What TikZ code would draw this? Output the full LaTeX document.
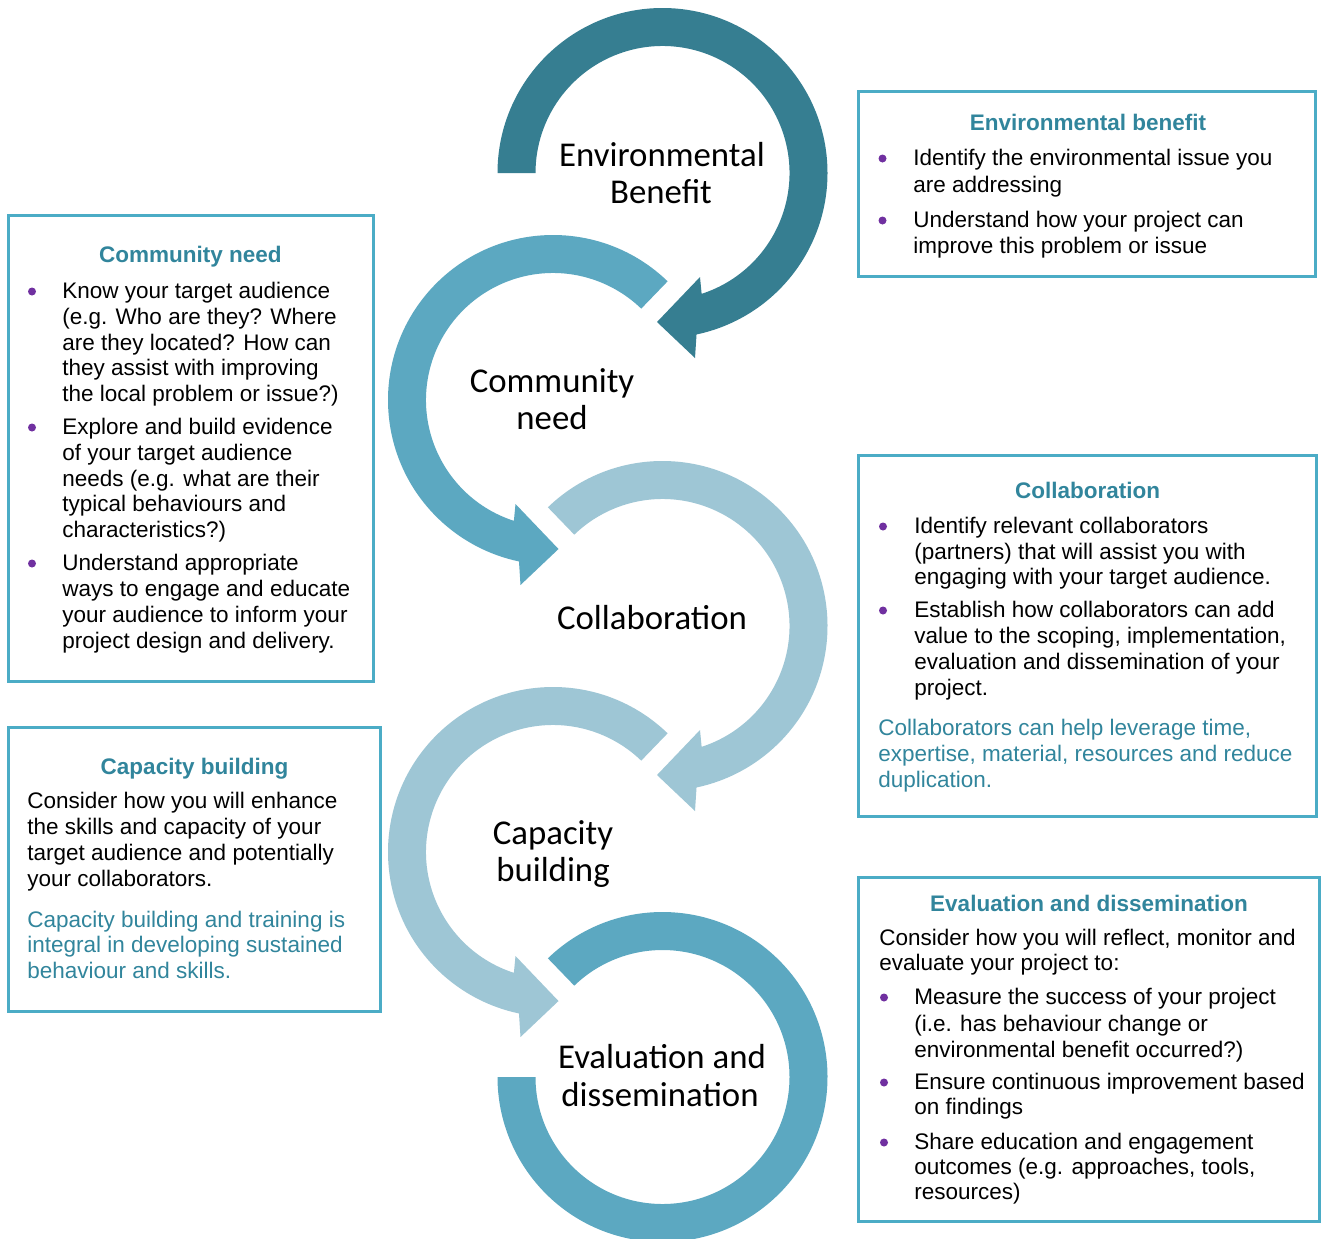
\documentclass[tikz,border=0pt]{standalone}
\usepackage{fontspec}
\setmainfont{Liberation Sans}
\newfontfamily\calfont{Carlito}
\definecolor{darkteal}{HTML}{367E91}
\definecolor{midblue}{HTML}{5CA8C1}
\definecolor{lightblue}{HTML}{9EC6D5}
\definecolor{boxc}{HTML}{4BACC6}
\definecolor{headc}{HTML}{31859C}
\definecolor{bulc}{HTML}{7030A0}
\begin{document}
\begin{tikzpicture}[x=0.5pt,y=-0.5pt,
  txt/.style={anchor=base west, inner sep=0pt, font=\fontsize{11.25}{13}\selectfont},
  tealtxt/.style={txt, text=headc},
  head/.style={anchor=base, inner sep=0pt, font=\fontsize{11.25}{13}\selectfont\bfseries, text=headc},
  lbl/.style={anchor=base, inner sep=0pt, font=\calfont\fontsize{17.4}{20}\selectfont},
  infobox/.style={draw=boxc, line width=1.5pt},
  bul/.style={fill=bulc}]
\useasboundingbox (0,0) rectangle (1322,1238);
\fill[white] (0,0) rectangle (1322,1238);

% ---- circular arrows ----
\begin{scope}[shift={(662.5,173)}, y=0.5pt]
  \fill[darkteal] (180:165) arc[start angle=180, end angle=-78.1, radius=165]
    -- (32.5,-185) -- (-5.5,-149) -- (37.5,-104) -- (-72.06:127)
    arc[start angle=-72.06, end angle=180, radius=127] -- cycle;
\end{scope}
\begin{scope}[shift={(553,400)}, y=0.5pt]
  \fill[midblue] (46:165) arc[start angle=46, end angle=258.1, radius=165]
    -- (-32.5,-185) -- (5.5,-149) -- (-37.5,-104) -- (252.06:127)
    arc[start angle=252.06, end angle=46, radius=127] -- cycle;
\end{scope}
\begin{scope}[shift={(662.5,626)}, y=0.5pt]
  \fill[lightblue] (134:165) arc[start angle=134, end angle=-78.1, radius=165]
    -- (32.5,-185) -- (-5.5,-149) -- (37.5,-104) -- (-72.06:127)
    arc[start angle=-72.06, end angle=134, radius=127] -- cycle;
\end{scope}
\begin{scope}[shift={(553,852)}, y=0.5pt]
  \fill[lightblue] (46:165) arc[start angle=46, end angle=258.1, radius=165]
    -- (-32.5,-185) -- (5.5,-149) -- (-37.5,-104) -- (252.06:127)
    arc[start angle=252.06, end angle=46, radius=127] -- cycle;
\end{scope}
\begin{scope}[shift={(662.5,1077)}, y=0.5pt]
  \fill[midblue] (134:165) arc[start angle=134, end angle=-180, radius=165]
    -- (-180:127) arc[start angle=-180, end angle=134, radius=127] -- cycle;
\end{scope}

% ---- labels in circles ----
\node[lbl] (l1a) at (662,166) {Environmental};
\node[lbl] (l1b) at (661,203) {Benefit};
\node[lbl] (l2a) at (552,392) {Community};
\node[lbl] (l2b) at (552,429) {need};
\node[lbl] (l3) at (652,629) {Collaboration};
\node[lbl] (l4a) at (553,844) {Capacity};
\node[lbl] (l4b) at (553,881) {building};
\node[lbl] (l5a) at (662,1068) {Evaluation and};
\node[lbl] (l5b) at (660,1106) {dissemination};

% ---- Environmental benefit box ----
\draw[infobox] (858.5,91.5) rectangle (1315.5,276.5);
\node[head] (eh) at (1088,130) {Environmental benefit};
\fill[bul] (882.5,158.5) circle[radius=4];
\fill[bul] (882.5,220.5) circle[radius=4];
\node[txt] (e1) at (913,165) {Identify the environmental issue you};
\node[txt] (e2) at (913,192) {are addressing};
\node[txt] (e3) at (913,227) {Understand how your project can};
\node[txt] (e4) at (913,253) {improve this problem or issue};

% ---- Community need box ----
\draw[infobox] (8.5,215.5) rectangle (373,681);
\node[head] (ch) at (190.5,262) {Community need};
\fill[bul] (32,291.5) circle[radius=4];
\fill[bul] (32,427.5) circle[radius=4];
\fill[bul] (32,563.5) circle[radius=4];
\node[txt] (c1) at (62,298) {Know your target audience};
\node[txt] (c2) at (62,324) {(e.g. Who are they? Where};
\node[txt] (c3) at (62,350) {are they located? How can};
\node[txt] (c4) at (62,375) {they assist with improving};
\node[txt] (c5) at (62,401) {the local problem or issue?)};
\node[txt] (c6) at (62,434) {Explore and build evidence};
\node[txt] (c7) at (62,460) {of your target audience};
\node[txt] (c8) at (62,486) {needs (e.g. what are their};
\node[txt] (c9) at (62,511) {typical behaviours and};
\node[txt] (c10) at (62,537) {characteristics?)};
\node[txt] (c11) at (62,570) {Understand appropriate};
\node[txt] (c12) at (62,596) {ways to engage and educate};
\node[txt] (c13) at (62,622) {your audience to inform your};
\node[txt] (c14) at (62,648) {project design and delivery.};

% ---- Collaboration box ----
\draw[infobox] (858.5,455.5) rectangle (1316.5,816.5);
\node[head] (kh) at (1087.5,498) {Collaboration};
\fill[bul] (883,526.5) circle[radius=4];
\fill[bul] (883,610.5) circle[radius=4];
\node[txt] (k1) at (914,533) {Identify relevant collaborators};
\node[txt] (k2) at (914,559) {(partners) that will assist you with};
\node[txt] (k3) at (914,584) {engaging with your target audience.};
\node[txt] (k4) at (914,617) {Establish how collaborators can add};
\node[txt] (k5) at (914,643) {value to the scoping, implementation,};
\node[txt] (k6) at (914,669) {evaluation and dissemination of your};
\node[txt] (k7) at (914,695) {project.};
\node[tealtxt] (k8) at (878,735) {Collaborators can help leverage time,};
\node[tealtxt] (k9) at (878,761) {expertise, material, resources and reduce};
\node[tealtxt] (k10) at (878,787) {duplication.};

% ---- Capacity building box ----
\draw[infobox] (8.5,727.5) rectangle (380.5,1011.5);
\node[head] (ph) at (194.5,774) {Capacity building};
\node[txt] (p1) at (27,808) {Consider how you will enhance};
\node[txt] (p2) at (27,834) {the skills and capacity of your};
\node[txt] (p3) at (27,860) {target audience and potentially};
\node[txt] (p4) at (27,886) {your collaborators.};
\node[tealtxt] (p5) at (27,927) {Capacity building and training is};
\node[tealtxt] (p6) at (27,952) {integral in developing sustained};
\node[tealtxt] (p7) at (27,978) {behaviour and skills.};

% ---- Evaluation and dissemination box ----
\draw[infobox] (858.5,877.5) rectangle (1319.5,1221.5);
\node[head] (vh) at (1089,911) {Evaluation and dissemination};
\node[txt] (v1) at (879,945) {Consider how you will reflect, monitor and};
\node[txt] (v2) at (879,970) {evaluate your project to:};
\fill[bul] (884,997.5) circle[radius=4];
\fill[bul] (884,1082.5) circle[radius=4];
\fill[bul] (884,1142.5) circle[radius=4];
\node[txt] (v3) at (914,1004) {Measure the success of your project};
\node[txt] (v4) at (914,1031) {(i.e. has behaviour change or};
\node[txt] (v5) at (914,1057) {environmental benefit occurred?)};
\node[txt] (v6) at (914,1089) {Ensure continuous improvement based};
\node[txt] (v7) at (914,1114) {on findings};
\node[txt] (v8) at (914,1149) {Share education and engagement};
\node[txt] (v9) at (914,1174) {outcomes (e.g. approaches, tools,};
\node[txt] (v10) at (914,1199) {resources)};
\end{tikzpicture}
\end{document}
